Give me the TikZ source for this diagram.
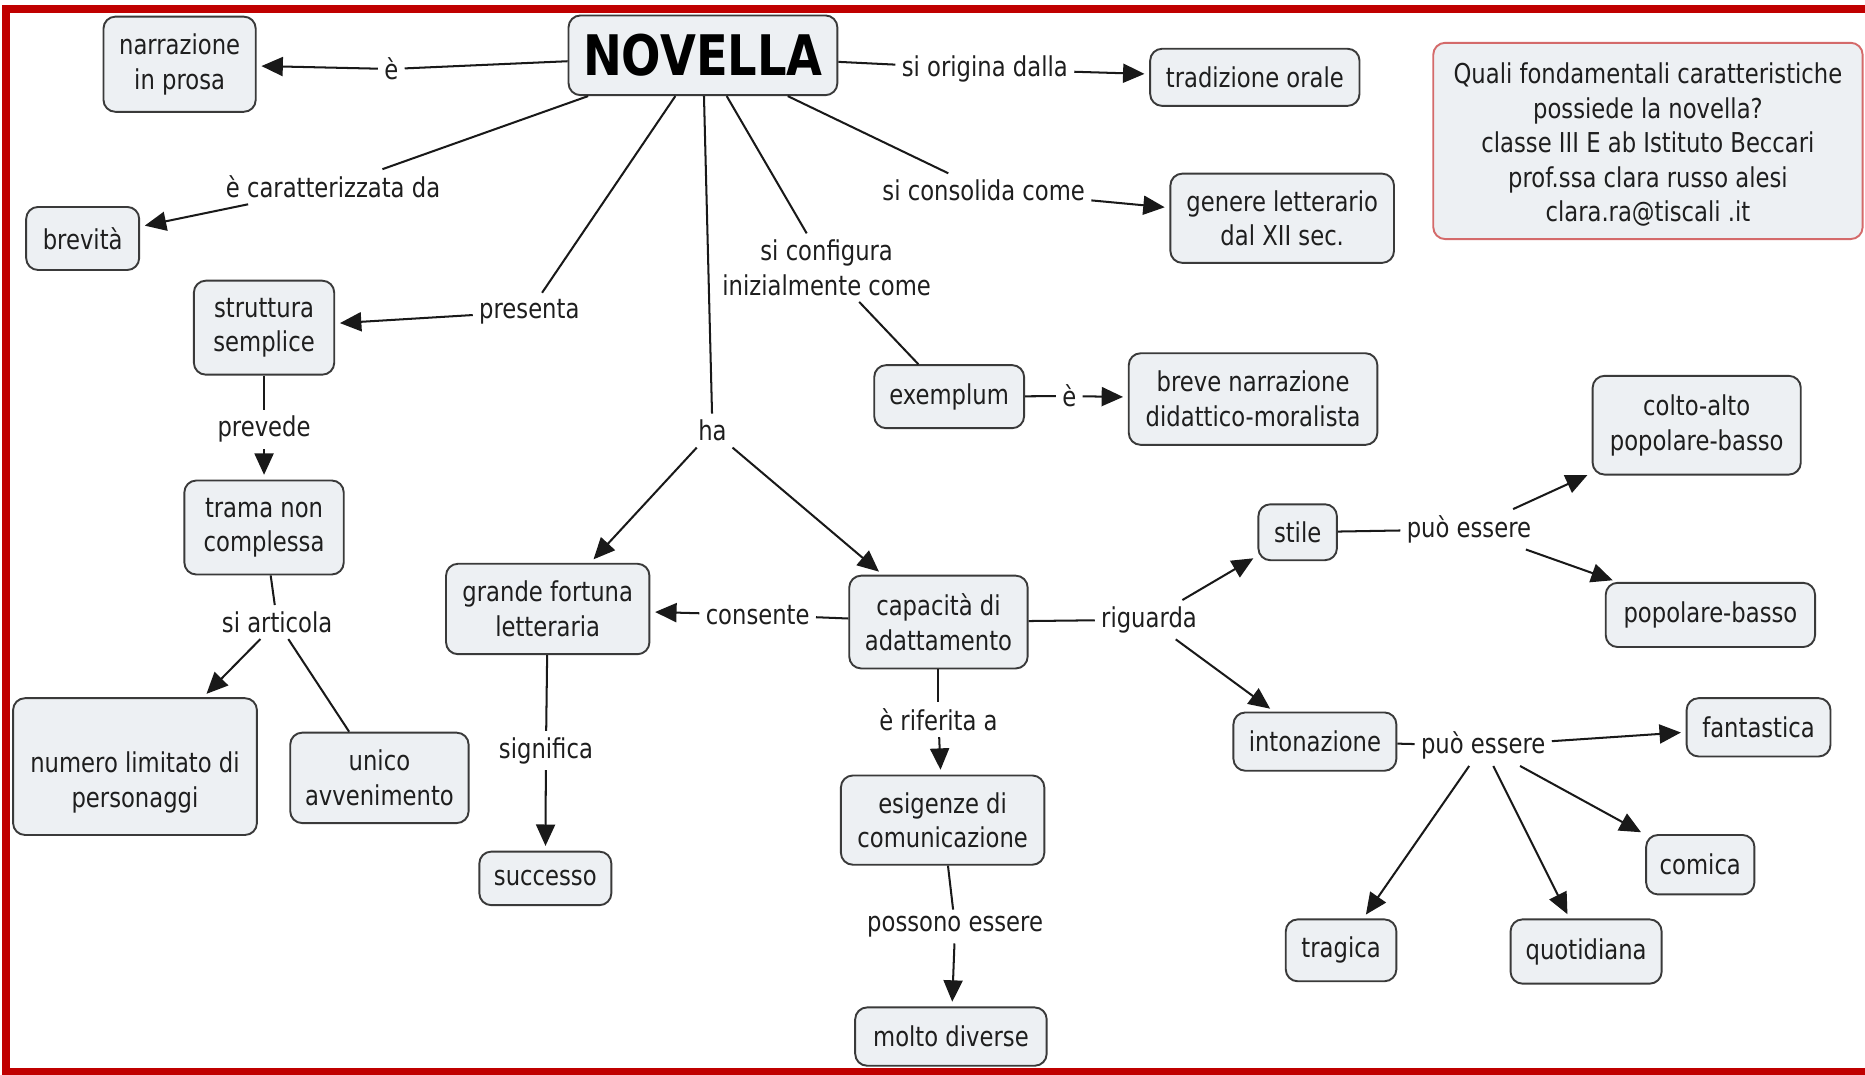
\documentclass[tikz,border=0pt]{standalone}
\usepackage{fontspec}
\setmainfont{DejaVu Sans}[FakeStretch=0.83]
\usetikzlibrary{arrows.meta}
\definecolor{boxfill}{HTML}{EDF0F3}
\definecolor{boxdraw}{HTML}{3A3A3A}
\definecolor{framered}{HTML}{C00000}
\definecolor{txt}{HTML}{1E1E1E}
\definecolor{infodraw}{HTML}{D46A6A}
\begin{document}
\begin{tikzpicture}[x=0.5pt,y=-0.5pt,
 every node/.style={font=\fontsize{11.5}{14.5}\selectfont, text=txt},
 box/.style={draw=boxdraw, fill=boxfill, rounded corners=5pt, line width=0.8pt, align=center, inner sep=0pt},
 lab/.style={inner sep=2.5pt, align=center},
 conn/.style={draw=black!90, line width=0.85pt},
 arr/.style={conn, -{Triangle[length=9pt,width=8pt]}, shorten >=2pt}]
\useasboundingbox (0,0) rectangle (1568,903);
\fill[white] (0,0) rectangle (1568,903);
\draw[framered, line width=3.2pt] (1600,7.5) -- (5,7.5) -- (5,901) -- (1600,901);

% concepts
\node[box, minimum width=113pt, minimum height=33.5pt, font=\fontsize{23.5}{27}\selectfont\bfseries, text=black] (nov) at (591,46.5) {NOVELLA};
\node[box, minimum width=64pt, minimum height=40pt] (narr) at (151,54) {narrazione\\in prosa};
\node[box, minimum width=88pt, minimum height=24pt] (trad) at (1055,65) {tradizione orale};
\node[box, draw=infodraw, minimum width=180.5pt, minimum height=82.5pt] (info) at (1385.5,118.5) {\raisebox{-2pt}[\height][\depth]{\begin{tabular}{@{}c@{}}Quali fondamentali caratteristiche\\possiede la novella?\\classe III E ab Istituto Beccari\\prof.ssa clara russo alesi\\clara.ra@tiscali .it\end{tabular}}};
\node[box, minimum width=47.5pt, minimum height=26.5pt] (brev) at (69.5,200.5) {brevità};
\node[box, minimum width=94pt, minimum height=37.5pt] (gen) at (1078,183.5) {genere letterario\\dal XII sec.};
\node[box, minimum width=59pt, minimum height=39.5pt] (strut) at (222,275.5) {struttura\\semplice};
\node[box, minimum width=63pt, minimum height=26.5pt] (exem) at (798,333.5) {exemplum};
\node[box, minimum width=104.5pt, minimum height=38.5pt] (breve) at (1053.5,335.5) {breve narrazione\\didattico-moralista};
\node[box, minimum width=87.5pt, minimum height=41.5pt] (colto) at (1426.5,357.5) {colto-alto\\popolare-basso};
\node[box, minimum width=67pt, minimum height=39.5pt] (trama) at (222,443.5) {trama non\\complessa};
\node[box, minimum width=33pt, minimum height=23.5pt] (stile) at (1091,447.5) {stile};
\node[box, minimum width=85.5pt, minimum height=38pt] (grande) at (460.5,512) {grande fortuna\\letteraria};
\node[box, minimum width=75pt, minimum height=39pt] (capac) at (789,523) {capacità di\\adattamento};
\node[box, minimum width=88pt, minimum height=27pt] (popb) at (1438,517) {popolare-basso};
\node[box, minimum width=102.5pt, minimum height=57.5pt] (numero) at (113.5,644.5) {\raisebox{-7pt}[\height][\depth]{\begin{tabular}{@{}c@{}}numero limitato di\\personaggi\end{tabular}}};
\node[box, minimum width=75pt, minimum height=38pt] (unico) at (319,654) {unico\\avvenimento};
\node[box, minimum width=68.5pt, minimum height=24.5pt] (inton) at (1105.5,623.5) {intonazione};
\node[box, minimum width=60.5pt, minimum height=24.5pt] (fant) at (1478.5,611.5) {fantastica};
\node[box, minimum width=85.5pt, minimum height=37.5pt] (esig) at (792.5,689.5) {esigenze di\\comunicazione};
\node[box, minimum width=55.5pt, minimum height=22.5pt] (succ) at (458.5,738.5) {successo};
\node[box, minimum width=45.5pt, minimum height=25pt] (comica) at (1429.5,727) {comica};
\node[box, minimum width=46.5pt, minimum height=26pt] (tragica) at (1127.5,799) {tragica};
\node[box, minimum width=63.5pt, minimum height=27pt] (quot) at (1333.5,800) {quotidiana};
\node[box, minimum width=80.5pt, minimum height=24.5pt] (molto) at (799.5,871.5) {molto diverse};

% linking phrases
\node[lab] (lE1) at (329,58) {è};
\node[lab] (lOrig) at (828,58) {si origina dalla};
\node[lab] (lCar) at (280,157) {è caratterizzata da};
\node[lab] (lPres) at (445,262) {presenta};
\node[lab] (lHa) at (599,362) {ha};
\node[lab] (lConf) at (695,225) {si configura\\inizialmente come};
\node[lab] (lCons) at (827,160) {si consolida come};
\node[lab] (lE2) at (899,333) {è};
\node[lab] (lPrev) at (222,361) {prevede};
\node[lab] (lArt) at (233,523) {si articola};
\node[lab] (lConsente) at (637,517) {consente};
\node[lab] (lSign) at (459,631) {significa};
\node[lab] (lRif) at (789,605) {è riferita a};
\node[lab] (lPoss) at (803,779) {possono essere};
\node[lab] (lRig) at (966,521) {riguarda};
\node[lab] (lPuoA) at (1235,445) {può essere};
\node[lab] (lPuoB) at (1247,627) {può essere};

% connectors
\draw[conn] (nov) -- (lE1);   \draw[arr] (lE1) -- (narr);
\draw[conn] (nov) -- (lOrig); \draw[arr] (lOrig) -- (trad);
\draw[conn] (nov) -- (lCar);  \draw[arr] (lCar) -- (brev);
\draw[conn] (nov) -- (lPres); \draw[arr] (lPres) -- (strut);
\draw[conn] (nov) -- (lHa);   \draw[arr] (lHa) -- (grande); \draw[arr] (lHa) -- (capac);
\draw[conn] (nov) -- (lConf); \draw[conn] (lConf) -- (exem);
\draw[conn] (nov) -- (lCons); \draw[arr] (lCons) -- (gen);
\draw[conn] (exem) -- (lE2);  \draw[arr] (lE2) -- (breve);
\draw[conn] (strut) -- (lPrev); \draw[arr] (lPrev) -- (trama);
\draw[conn] (trama) -- (lArt); \draw[arr] (lArt) -- (numero); \draw[conn] (lArt) -- (unico);
\draw[conn] (capac) -- (lConsente); \draw[arr] (lConsente) -- (grande);
\draw[conn] (grande) -- (lSign); \draw[arr] (lSign) -- (succ);
\draw[conn] (capac) -- (lRif); \draw[arr] (lRif) -- (esig);
\draw[conn] (esig) -- (lPoss); \draw[arr] (lPoss) -- (molto);
\draw[conn] (capac) -- (lRig); \draw[arr] (lRig) -- (stile); \draw[arr] (lRig) -- (inton);
\draw[conn] (stile) -- (lPuoA); \draw[arr] (lPuoA) -- (colto); \draw[arr] (lPuoA) -- (popb);
\draw[conn] (inton) -- (lPuoB); \draw[arr] (lPuoB) -- (fant); \draw[arr] (lPuoB) -- (tragica);
\draw[arr] (lPuoB) -- (quot); \draw[arr] (lPuoB) -- (comica);
\end{tikzpicture}
\end{document}
